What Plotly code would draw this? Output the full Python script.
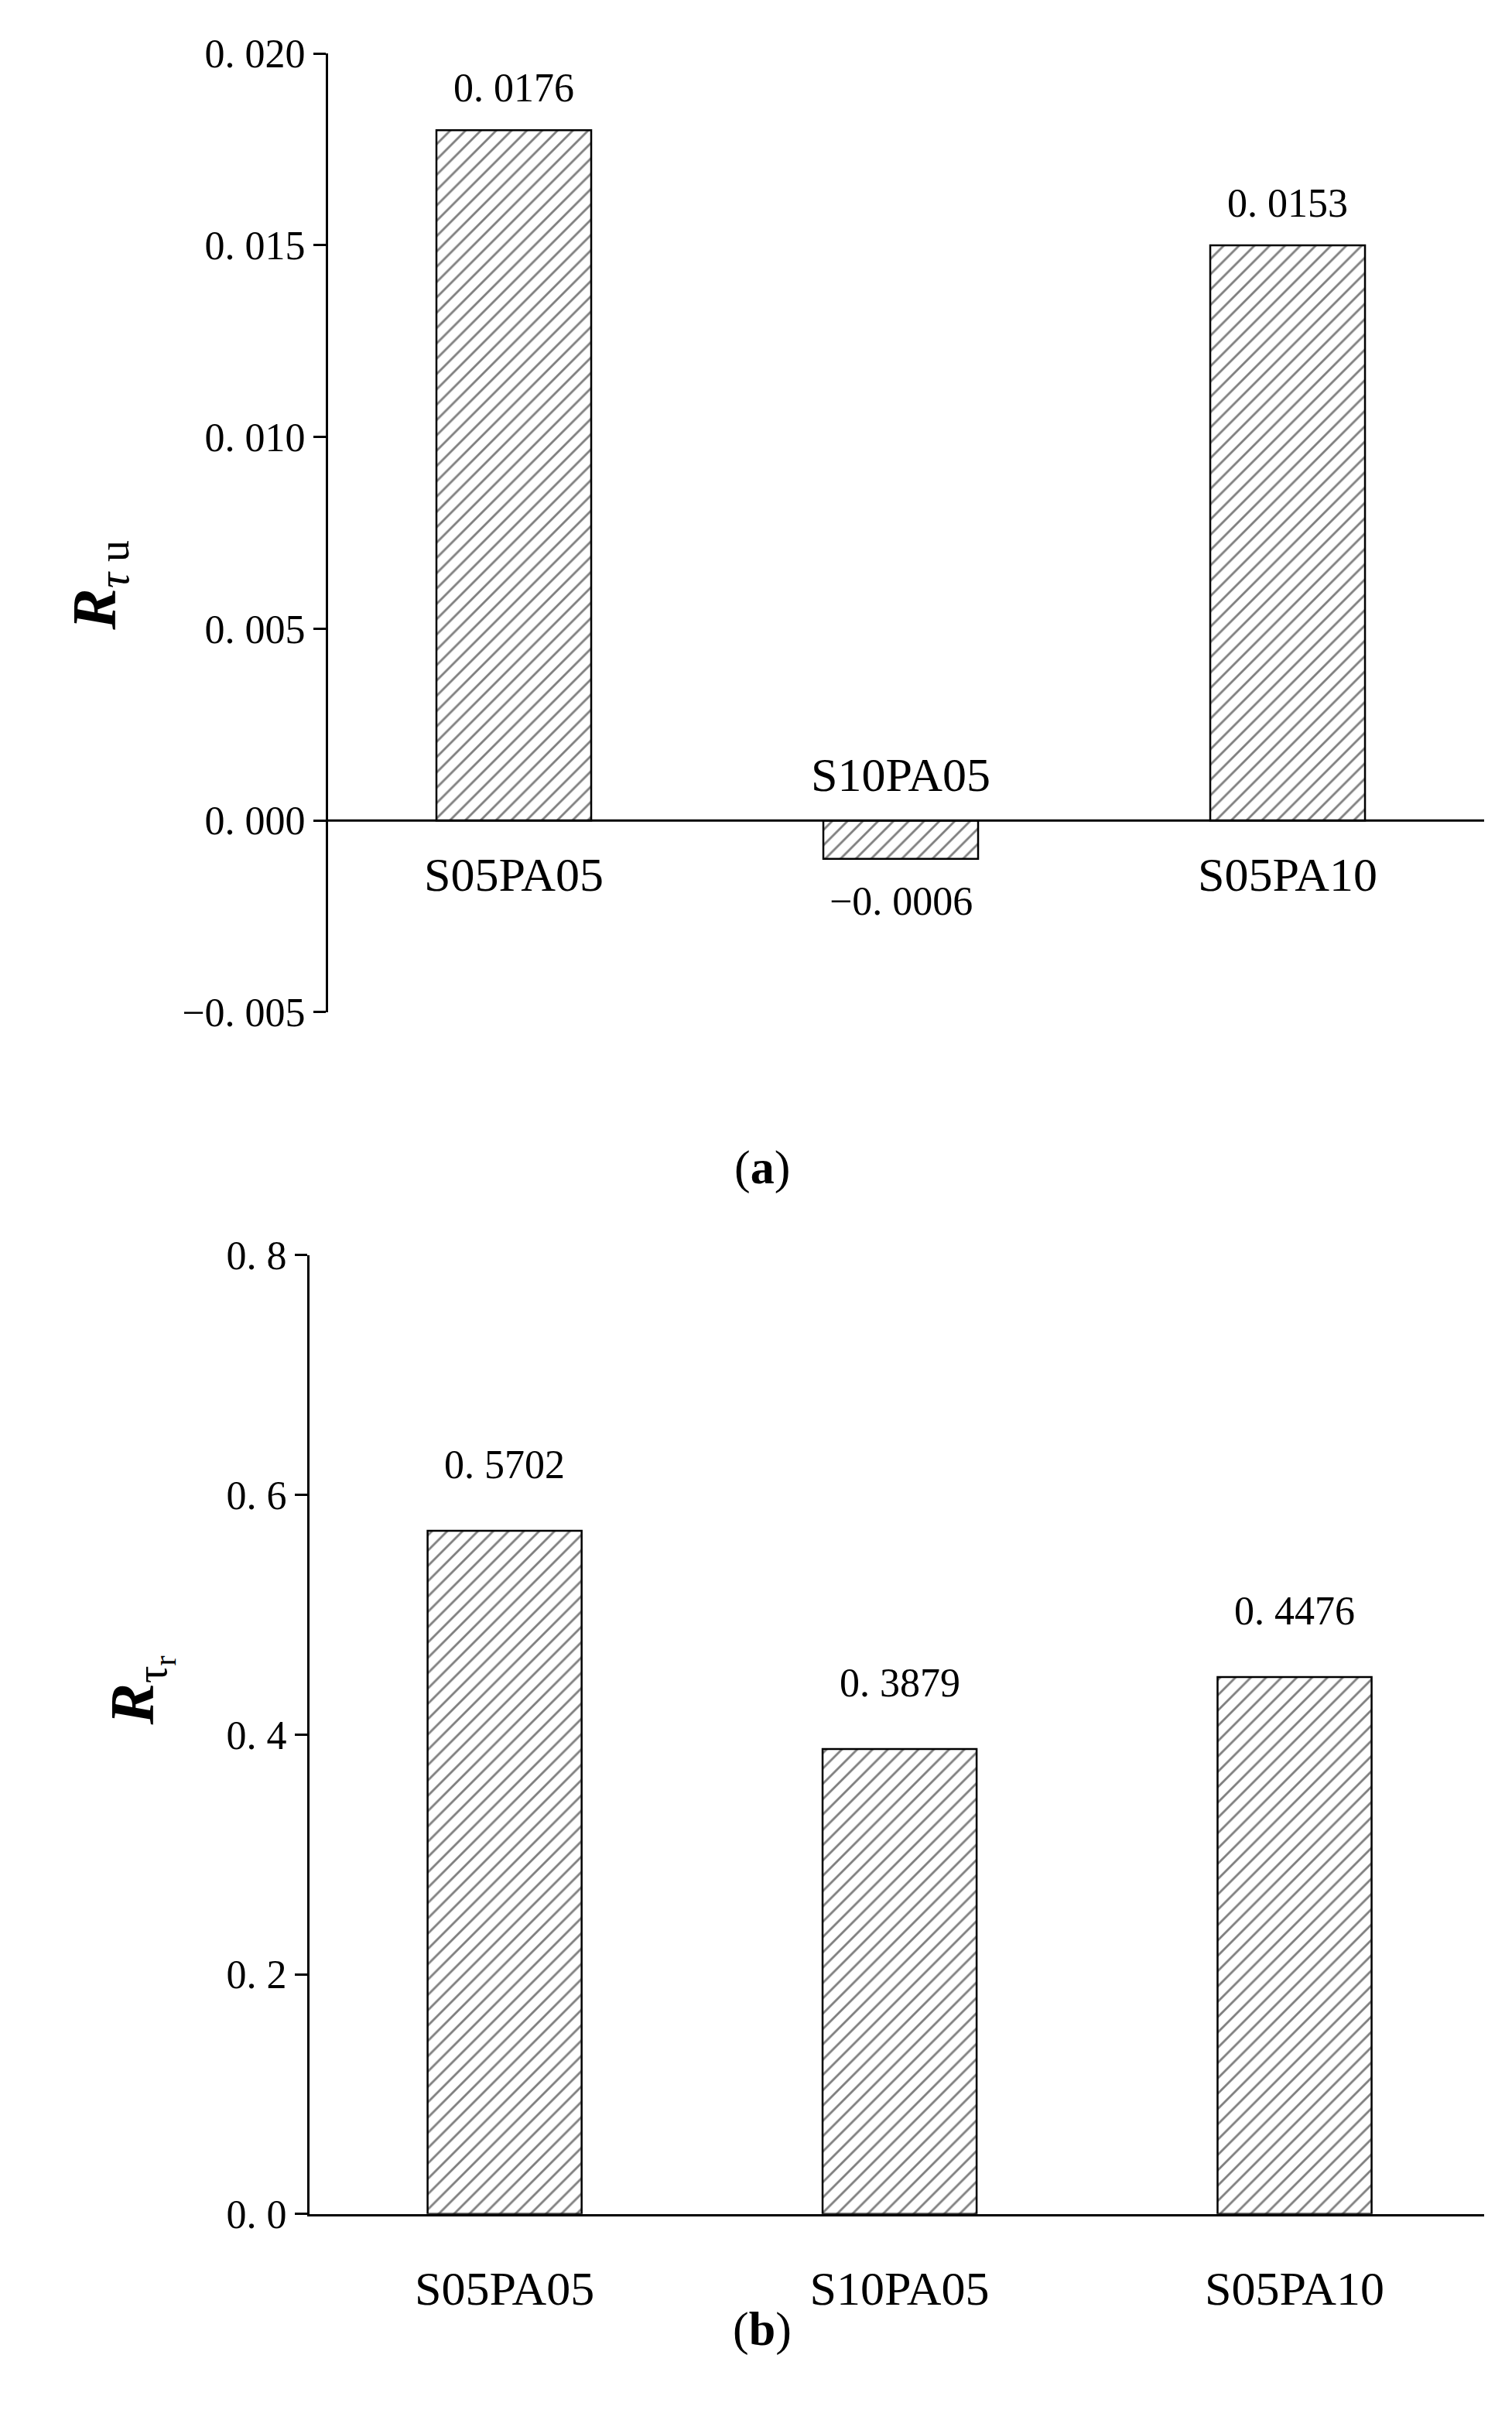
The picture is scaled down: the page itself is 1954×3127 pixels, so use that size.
import plotly.graph_objects as go

cats = ["S05PA05", "S10PA05", "S05PA10"]
top_vals = [0.018, -0.001, 0.015]
top_labels = ["0. 0176", "−0. 0006", "0. 0153"]
bot_vals = [0.570, 0.388, 0.448]
bot_labels = ["0. 5702", "0. 3879", "0. 4476"]
top_ticks = [-0.005, 0.0, 0.005, 0.010, 0.015, 0.020]
top_ticktext = ["−0. 005", "0. 000", "0. 005", "0. 010", "0. 015", "0. 020"]
bot_ticks = [0.0, 0.2, 0.4, 0.6, 0.8]
bot_ticktext = ["0. 0", "0. 2", "0. 4", "0. 6", "0. 8"]
xpos = [1, 2, 3]

FONT = "Liberation Serif"
fig = go.Figure()
pat = dict(shape="/", fgcolor="black", bgcolor="white", size=14, solidity=0.2)
fig.add_bar(x=xpos, y=top_vals, width=0.4, xaxis="x", yaxis="y",
            marker=dict(color="white", line=dict(color="black", width=2.5), pattern=pat))
fig.add_bar(x=xpos, y=bot_vals, width=0.39, xaxis="x2", yaxis="y2",
            marker=dict(color="white", line=dict(color="black", width=2.5), pattern=pat))

ax = dict(showgrid=False, zeroline=False, linecolor="black", linewidth=3,
          ticks="outside", ticklen=16, tickwidth=3, tickcolor="black",
          tickfont=dict(family=FONT, size=52, color="black"))
fig.update_layout(
    width=1954, height=3127, margin=dict(l=0, r=0, t=0, b=0),
    plot_bgcolor="white", paper_bgcolor="white", showlegend=False,
    xaxis=dict(domain=[0.2129, 0.9775], range=[0.52, 3.508], visible=False),
    yaxis=dict(domain=[0.5857, 0.9892], range=[-0.005, 0.020], tickvals=top_ticks,
               ticktext=top_ticktext, showline=True, **ax),
    xaxis2=dict(domain=[0.2006, 0.9775], range=[0.506, 3.48], anchor="y2",
                tickvals=xpos, ticktext=cats, showline=True, linecolor="black", linewidth=3,
                ticks="", showgrid=False, zeroline=False, ticklabelstandoff=40,
                tickfont=dict(family=FONT, size=62, color="black")),
    yaxis2=dict(domain=[0.0799, 0.4834], range=[0, 0.8], tickvals=bot_ticks,
                ticktext=bot_ticktext, showline=True, anchor="x2", **ax),
)
fig.add_shape(type="line", xref="x", yref="y", x0=0.52, x1=3.508, y0=0, y1=0,
              line=dict(color="black", width=3))
cat_y = [-0.0014, 0.0012, -0.0014]
for x, c, yy in zip(xpos, cats, cat_y):
    fig.add_annotation(x=x, y=yy, xref="x", yref="y", text=c, showarrow=False,
                       yanchor="middle", font=dict(family=FONT, size=62, color="black"))
for x, v, t in zip(xpos, top_vals, top_labels):
    yy = v + 0.0011 if v > 0 else v - 0.0011
    fig.add_annotation(x=x, y=yy, xref="x", yref="y", text=t, showarrow=False,
                       yanchor="middle", font=dict(family=FONT, size=52, color="black"))
for x, v, t in zip(xpos, bot_vals, bot_labels):
    fig.add_annotation(x=x, y=v + 0.055, xref="x2", yref="y2", text=t, showarrow=False,
                       yanchor="middle", font=dict(family=FONT, size=52, color="black"))
fig.add_annotation(x=0.035, y=0.785, xref="paper", yref="paper",
                   text="<b><i>R</i></b><sub><i>τ</i> u</sub>", showarrow=False,
                   textangle=-90, font=dict(family=FONT, size=80, color="black"))
fig.add_annotation(x=0.06, y=0.285, xref="paper", yref="paper",
                   text="<b><i>R</i></b><sub>τ<sub>r</sub></sub>", showarrow=False,
                   textangle=-90, font=dict(family=FONT, size=80, color="black"))
fig.add_annotation(x=0.5, y=1 - 1500 / 3127, xref="paper", yref="paper", text="(<b>a</b>)",
                   showarrow=False, font=dict(family=FONT, size=62, color="black"))
fig.add_annotation(x=0.5, y=1 - 3066 / 3127, xref="paper", yref="paper", text="(<b>b</b>)",
                   showarrow=False, font=dict(family=FONT, size=62, color="black"))
fig.write_html("out.html")
